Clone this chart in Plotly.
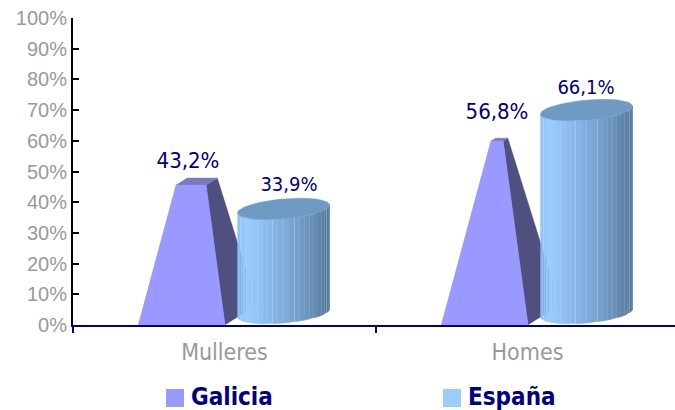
import numpy as np
import plotly.graph_objects as go

# ---- data ----
categories = ["Mulleres", "Homes"]
galicia = [43.2, 56.8]
espana = [33.9, 66.1]
series_names = ["Galicia", "España"]
y_ticks = list(range(0, 101, 10))

# ---- geometry of the fake 3-D marks (pixel scale of the axes) ----
PX_CAT = 303.0
PX_PCT = 3.07
W, H = 675, 410
L, T, B = 73, 18, 85
X_RANGE = (W - L) / PX_CAT
FONT = "DejaVu Sans Condensed, DejaVu Sans, sans-serif"
NAVY = "#000080"
GREY = "#999999"

# label placement, in pixels
GALICIA_LABEL_DX = [115, 121]
GALICIA_LABEL_LIFT = [23, 28]
ESPANA_LABEL_DX = [216, 210]
ESPANA_LABEL_LIFT = [23, 21]


def dx(px):
    return px / PX_CAT


def dy(px):
    return px / PX_PCT


def poly(fig, xs, ys, color, line=None, lw=0.5):
    fig.add_trace(go.Scatter(x=xs, y=ys, mode="lines", fill="toself", fillcolor=color,
                             line=dict(color=line or color, width=lw),
                             hoverinfo="skip", showlegend=False))


def pyramid(fig, cat, value):
    x0 = cat + dx(65)
    base = dx(87)
    apex = 70.0
    h = value * 1.055
    f = 1 - h / apex
    depth_x, depth_y = dx(32), dy(20)
    lx = x0 + dx(58) * (1 - f)
    rx = lx + base * f
    brx = x0 + base + depth_x
    poly(fig, [x0 + base, rx, rx + depth_x * f, brx],
         [0, h, h + depth_y * f, depth_y], "#4F4F80")
    poly(fig, [lx, rx, rx + depth_x * f, lx + depth_x * f],
         [h, h, h + depth_y * f, h + depth_y * f], "#7A7ABF")
    poly(fig, [x0, x0 + base, rx, lx], [0, 0, h, h], "#9999FF")


STOPS = [(0.0, (141, 191, 238)), (0.1, (153, 204, 255)), (0.5, (128, 174, 222)),
         (0.8, (106, 146, 184)), (1.0, (85, 119, 153))]


def shade(u):
    c = [np.interp(u, [s[0] for s in STOPS], [s[1][i] for s in STOPS]) for i in range(3)]
    return "rgb(%d,%d,%d)" % tuple(c)


def cylinder(fig, cat, value):
    cx = cat + dx(210.5)
    rx = dx(46)
    lift = dy(12)

    def ell(t, base):
        return cx + rx * np.cos(t), base + dy(4) * np.cos(t) - dy(10) * np.sin(t)

    top = lift + value
    n = 26
    ts = np.linspace(np.pi, 0, n + 1)
    for i in range(n):
        t = np.linspace(ts[i], ts[i + 1], 3)
        xt, yt = ell(t, top)
        xb, yb = ell(t, lift)
        u = (0.5 * (np.cos(ts[i]) + np.cos(ts[i + 1])) + 1) / 2
        edge = "rgba(190,220,250,0.45)" if i % 4 == 2 else None
        poly(fig, list(xt) + list(xb[::-1]), list(yt) + list(yb[::-1]), shade(u), line=edge)
    t = np.linspace(0, 2 * np.pi, 73)
    xt, yt = ell(t, top)
    poly(fig, list(xt), list(yt), "#6F9AC3")


fig = go.Figure()
for i, v in enumerate(galicia):
    pyramid(fig, i, v)
for i, v in enumerate(espana):
    cylinder(fig, i, v)

fig.add_trace(go.Scatter(
    x=[i + dx(d) for i, d in enumerate(GALICIA_LABEL_DX)],
    y=[v * 1.055 + dy(l) for v, l in zip(galicia, GALICIA_LABEL_LIFT)],
    mode="text", text=[f"{v:.1f}%".replace(".", ",") for v in galicia],
    textfont=dict(family=FONT, size=22, color=NAVY), hoverinfo="skip",
    cliponaxis=False, showlegend=False))
fig.add_trace(go.Scatter(
    x=[i + dx(d) for i, d in enumerate(ESPANA_LABEL_DX)],
    y=[v + dy(12) + dy(l) for v, l in zip(espana, ESPANA_LABEL_LIFT)],
    mode="text", text=[f"{v:.1f}%".replace(".", ",") for v in espana],
    textfont=dict(family=FONT, size=20, color=NAVY), hoverinfo="skip",
    cliponaxis=False, showlegend=False))

# legend entries under the axis
PLOT_W, PLOT_H = W - L, H - T - B


def px(x):
    return (x - L) / PLOT_W


def py(y):
    return (H - B - y) / PLOT_H


for k, (name, col) in enumerate(zip(series_names, ["#9999FF", "#99CCFF"])):
    left = 166 + 277 * k
    fig.add_shape(type="rect", xref="paper", yref="paper", x0=px(left), x1=px(left + 18),
                  y0=py(407), y1=py(389), fillcolor=col, line_width=0, layer="above")
    fig.add_annotation(xref="paper", yref="paper", x=px(left + 24), y=py(397),
                       xanchor="left", yanchor="middle", showarrow=False, text=f"<b>{name}</b>",
                       font=dict(family=FONT, size=24, color=NAVY), borderpad=0)

fig.update_layout(
    width=W, height=H, margin=dict(l=L, r=0, t=T, b=B, pad=0),
    paper_bgcolor="white", plot_bgcolor="white", showlegend=False,
    xaxis=dict(range=[0, X_RANGE], tickmode="array", tickvals=[0.5, 1.5], ticktext=categories,
               ticks="", showgrid=False, zeroline=False, showline=True, linecolor=NAVY,
               linewidth=2, tickfont=dict(family=FONT, size=23, color=GREY),
               minor=dict(tickmode="array", tickvals=[0, 1], ticks="outside", ticklen=6,
                          tickcolor=NAVY, tickwidth=2, showgrid=False),
               ticklabelstandoff=5),
    yaxis=dict(range=[0, 100], tickmode="array", tickvals=y_ticks,
               ticktext=[f"{v}%" for v in y_ticks], ticks="inside", ticklen=6, tickwidth=2,
               tickcolor="black", showgrid=False, zeroline=False, showline=True,
               linecolor="black", linewidth=2,
               tickfont=dict(family="Liberation Sans, Arial", size=20, color=GREY)),
)
fig.write_html("out.html", config={"displayModeBar": False},
               post_script="document.body.style.margin='0';document.body.style.overflow='hidden';")
